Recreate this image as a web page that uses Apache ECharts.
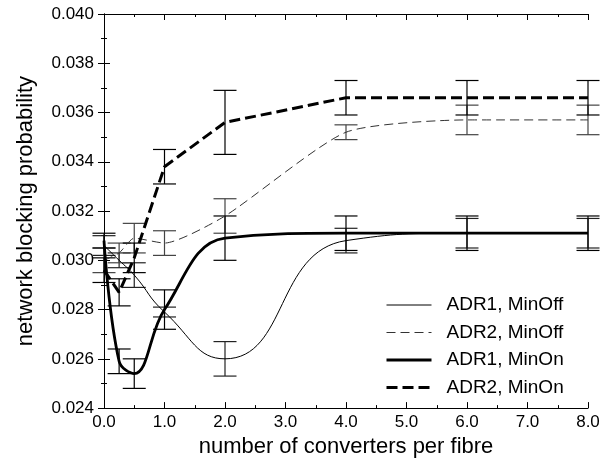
<!DOCTYPE html>
<html>
<head>
<meta charset="utf-8">
<script src="https://cdn.jsdelivr.net/npm/echarts@6/dist/echarts.min.js"></script>
<style>
html,body{margin:0;padding:0;background:#fff;}
#c{width:609px;height:463px;}
</style>
</head>
<body>
<div id="c"></div>
<script>
// x positions (number of converters per fibre)
const xs = [0, 0.25, 0.5, 1, 2, 4, 6, 8];
// series names
const names = ['ADR1, MinOff', 'ADR2, MinOff', 'ADR1, MinOn', 'ADR2, MinOn'];
// mean blocking probabilities
const adr1MinOff = [0.0306, 0.0300, 0.0294, 0.0279, 0.0260, 0.0308, 0.0311, 0.0311];
const adr2MinOff = [0.0300, 0.0303, 0.0309, 0.0307, 0.0318, 0.0352, 0.0357, 0.0357];
const adr1MinOn  = [0.0308, 0.0259, 0.0254, 0.0280, 0.0309, 0.0311, 0.0311, 0.0311];
const adr2MinOn  = [0.0296, 0.0287, 0.0301, 0.0338, 0.0356, 0.0366, 0.0366, 0.0366];
// half-widths of confidence intervals
const adr1MinOffErr = [0.0004, 0.0003, 0.0005, 0.0002, 0.0007, 0.0005, 0.0006, 0.0006];
const adr2MinOffErr = [0.0005, 0.0004, 0.0006, 0.0005, 0.0007, 0.0003, 0.0006, 0.0006];
const adr1MinOnErr  = [0.0003, 0.0005, 0.0006, 0.0008, 0.0009, 0.0007, 0.0007, 0.0007];
const adr2MinOnErr  = [0.0005, 0.00055, 0.0006, 0.0007, 0.0013, 0.0007, 0.0007, 0.0007];
// tick labels
const xTicks = ['0.0','1.0','2.0','3.0','4.0','5.0','6.0','7.0','8.0'];
const yTicks = ['0.024','0.026','0.028','0.030','0.032','0.034','0.036','0.038','0.040'];

const FONT = 'Liberation Sans, Arial, sans-serif';
const chart = echarts.init(document.getElementById('c'), null, {renderer: 'canvas'});

function pts(vals){ return xs.map((x,i)=>[x, vals[i]]); }
function errData(vals, errs){ return xs.map((x,i)=>[x, vals[i]-errs[i], vals[i]+errs[i]]); }

function errSeries(vals, errs, color){
  return {
    type: 'custom',
    silent: true,
    clip: false,
    z: 1,
    data: errData(vals, errs),
    renderItem: function(params, api){
      const x = api.value(0);
      const lo = api.coord([x, api.value(1)]);
      const hi = api.coord([x, api.value(2)]);
      const w = 11.5;
      const st = {stroke: color, lineWidth: 1.2};
      return {
        type: 'group',
        children: [
          {type:'line', shape:{x1:lo[0], y1:lo[1], x2:hi[0], y2:hi[1]}, style: st},
          {type:'line', shape:{x1:lo[0]-w, y1:lo[1], x2:lo[0]+w, y2:lo[1]}, style: st},
          {type:'line', shape:{x1:hi[0]-w, y1:hi[1], x2:hi[0]+w, y2:hi[1]}, style: st}
        ]
      };
    }
  };
}

const axisCommon = {
  axisLine: {show: true, lineStyle: {color: '#000', width: 1}},
  axisTick: {show: true, inside: true, length: 6, lineStyle: {color: '#000'}},
  minorTick: {show: true, splitNumber: 2, length: 3, lineStyle: {color: '#000'}},
  splitLine: {show: false},
  minorSplitLine: {show: false}
};

const styles = [
  {color: '#000', width: 1, type: 'solid'},
  {color: '#333', width: 1, type: [9, 5]},
  {color: '#000', width: 2.8, type: 'solid'},
  {color: '#000', width: 3, type: [11, 5]}
];

const option = {
  animation: false,
  backgroundColor: '#fff',
  grid: {left: 104, right: 21, top: 14, bottom: 49, containLabel: false},
  legend: {
    orient: 'vertical',
    left: 380, top: 290,
    itemWidth: 45, itemHeight: 14, itemGap: 7.5,
    data: names.map((n, i) => ({name: n, lineStyle: {width: styles[i].width, type: styles[i].type, color: styles[i].color}})),
    itemStyle: {opacity: 0},
    textStyle: {fontFamily: FONT, fontSize: 19, color: '#000', lineHeight: 20, padding: [0,0,0,10]},
    selectedMode: false
  },
  xAxis: [
    Object.assign({}, axisCommon, {
      type: 'value', min: 0, max: 8, interval: 1, position: 'bottom',
      name: 'number of converters per fibre', nameLocation: 'middle', nameGap: 27,
      nameTextStyle: {fontFamily: FONT, fontSize: 22, color: '#000', verticalAlign: 'top'},
      axisLabel: {show: true, margin: 6, fontFamily: FONT, fontSize: 17, color: '#000',
        formatter: v => xTicks[Math.round(v)]}
    }),
    Object.assign({}, axisCommon, {
      type: 'value', min: 0, max: 8, interval: 1, position: 'top',
      axisLabel: {show: false}
    })
  ],
  yAxis: [
    Object.assign({}, axisCommon, {
      type: 'value', min: 0.024, max: 0.040, interval: 0.002, position: 'left',
      name: 'network blocking probability', nameLocation: 'middle', nameGap: 67,
      nameTextStyle: {fontFamily: FONT, fontSize: 22, color: '#000'},
      axisLabel: {show: true, margin: 10, fontFamily: FONT, fontSize: 17, color: '#000',
        formatter: v => yTicks[Math.round((v - 0.024) / 0.002)]}
    }),
    Object.assign({}, axisCommon, {
      type: 'value', min: 0.024, max: 0.040, interval: 0.002, position: 'right',
      axisLabel: {show: false}
    })
  ],
  series: [
    errSeries(adr1MinOff, adr1MinOffErr, '#222'),
    errSeries(adr2MinOff, adr2MinOffErr, '#444'),
    errSeries(adr1MinOn, adr1MinOnErr, '#000'),
    errSeries(adr2MinOn, adr2MinOnErr, '#000'),
    {name: names[0], type: 'line', data: pts(adr1MinOff), smooth: 0.5, showSymbol: false, symbol: 'none',
      lineStyle: styles[0], itemStyle: {color: '#000'}, z: 3},
    {name: names[1], type: 'line', data: pts(adr2MinOff), smooth: 0.2, showSymbol: false, symbol: 'none',
      lineStyle: styles[1], itemStyle: {color: '#333'}, z: 3},
    {name: names[2], type: 'line', data: pts(adr1MinOn), smooth: 0.4, showSymbol: false, symbol: 'none',
      lineStyle: styles[2], itemStyle: {color: '#000'}, z: 4},
    {name: names[3], type: 'line', data: pts(adr2MinOn), smooth: false, showSymbol: false, symbol: 'none',
      lineStyle: styles[3], itemStyle: {color: '#000'}, z: 4}
  ]
};
chart.setOption(option);
</script>
</body>
</html>
